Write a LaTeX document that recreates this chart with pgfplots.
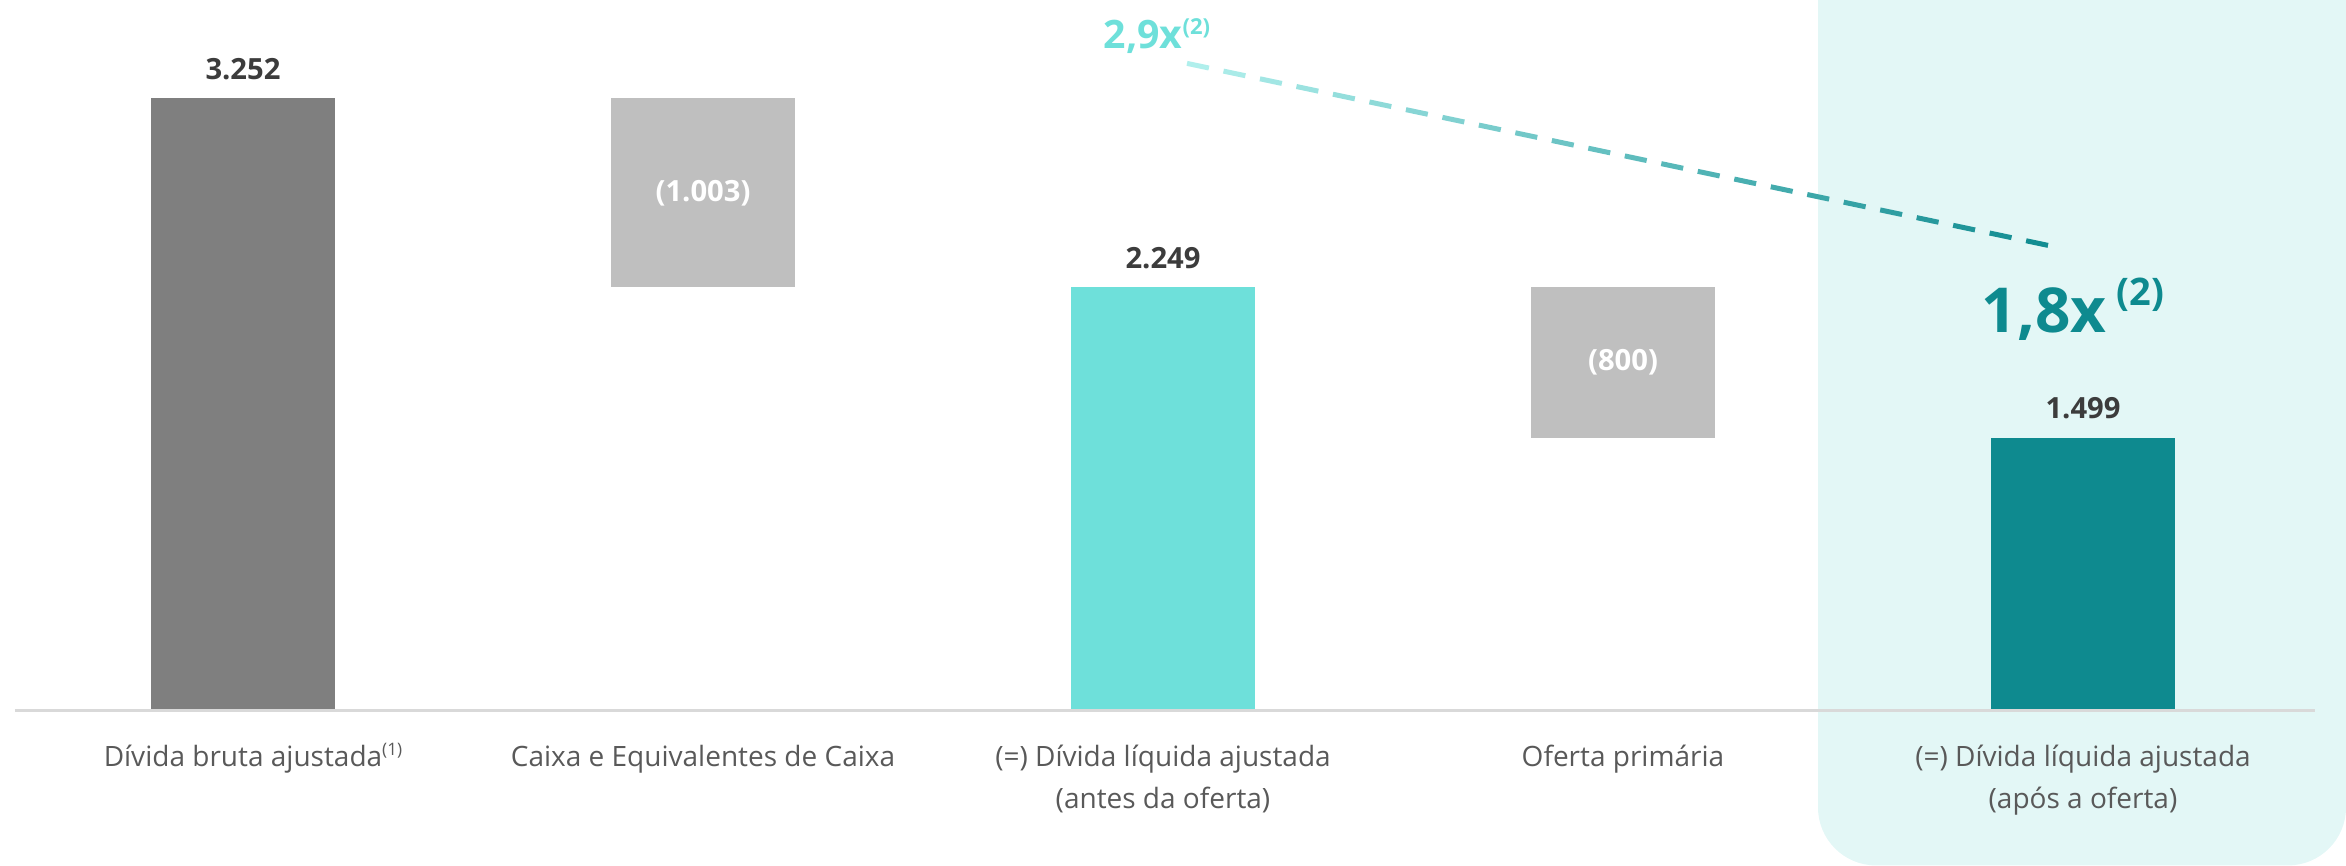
\documentclass[border=0pt]{standalone}
\usepackage{pgfplots}
\pgfplotsset{compat=1.18}
\usepackage{fontspec}
\setmainfont{Open Sans}
\definecolor{barA}{HTML}{7F7F7F}
\definecolor{barB}{HTML}{BFBFBF}
\definecolor{turq}{HTML}{6EE0DA}
\definecolor{teal}{HTML}{0E8A8F}
\definecolor{panel}{HTML}{E3F7F6}
\definecolor{valtxt}{HTML}{3C3C3C}
\definecolor{cattxt}{HTML}{595959}
\definecolor{axisln}{HTML}{D9D9D9}
\definecolor{dashA}{HTML}{B2F0ED}
\definecolor{dashB}{HTML}{0E8A8F}
\newcommand\dsh[5]{\draw[line width=1.25pt, dashB!#1!dashA] (axis cs:#2,#3) -- (axis cs:#4,#5);}
\newcommand\st{\rule{0pt}{8pt}}
\begin{document}
\begin{tikzpicture}
\begin{axis}[
  set layers,
  ybar stacked, bar width=0.4, reverse stacked plots=false,
  scale only axis, width=586.5pt, height=177.5pt,
  xmin=-0.52826, xmax=4.57174, ymin=0, ymax=3772.6,
  clip=false,
  axis line style={draw=none},
  major tick length=0pt,
  ytick=\empty,
  xtick={0,1,2,3,4},
  xticklabels={{\st Dívida bruta ajustada\rlap{\raisebox{2.6pt}{\fontsize{4.3}{5}\selectfont(1)}}},{\st Caixa e Equivalentes de Caixa},{\st(=) Dívida líquida ajustada\\(antes da oferta)},{\st Oferta primária},{\st(=) Dívida líquida ajustada\\(após a oferta)}},
  xticklabel style={font=\fontsize{7}{10.6}\selectfont, text=cattxt, align=center, anchor=north, inner sep=0pt, yshift=-5.75pt},
]
% background panel (top corners fall outside the page)
\begin{pgfonlayer}{axis background}
\fill[panel, rounded corners=14.5pt, overlay] (axis cs:3.42391,-823.6) rectangle (axis cs:4.57174,4600);
\path (axis cs:-0.52826,-823.6) rectangle (axis cs:4.57174,3772.6);
\end{pgfonlayer}
% invisible base
\addplot[draw=none, fill=none] coordinates {(0,0) (1,2249) (2,0) (3,1449) (4,0)};
\addplot[draw=none, fill=barA] coordinates {(0,3252) (1,0) (2,0) (3,0) (4,0)};
\addplot[draw=none, fill=barB] coordinates {(0,0) (1,1003) (2,0) (3,0) (4,0)};
\addplot[draw=none, fill=turq] coordinates {(0,0) (1,0) (2,2249) (3,0) (4,0)};
\addplot[draw=none, fill=barB] coordinates {(0,0) (1,0) (2,0) (3,800) (4,0)};
\addplot[draw=none, fill=teal] coordinates {(0,0) (1,0) (2,0) (3,0) (4,1449)};
% axis line
\draw[axisln, line width=0.8pt] (axis cs:-0.4957,0) -- (axis cs:4.5043,0);
% value labels
\node[anchor=base, yshift=4.75pt, font=\fontsize{7.3}{8}\selectfont\bfseries, text=valtxt] at (axis cs:0,3252) {3.252};
\node[anchor=base, yshift=4.75pt, font=\fontsize{7.3}{8}\selectfont\bfseries, text=valtxt] at (axis cs:2,2249) {2.249};
\node[anchor=base, yshift=4.75pt, font=\fontsize{7.3}{8}\selectfont\bfseries, text=valtxt] at (axis cs:4,1449) {1.499};
\node[anchor=center, font=\fontsize{7.3}{8}\selectfont\bfseries, text=white] at (axis cs:1,2750.5) {(1.003)};
\node[anchor=center, font=\fontsize{7.3}{8}\selectfont\bfseries, text=white] at (axis cs:3,1849) {(800)};
% dashed gradient line
\dsh{1}{2.0522}{3438.0}{2.0998}{3413.4}
\dsh{5}{2.1315}{3397.0}{2.1791}{3372.4}
\dsh{10}{2.2108}{3356.1}{2.2584}{3331.5}
\dsh{14}{2.2901}{3315.1}{2.3377}{3290.5}
\dsh{18}{2.3694}{3274.1}{2.4170}{3249.5}
\dsh{22}{2.4488}{3233.1}{2.4963}{3208.5}
\dsh{26}{2.5281}{3192.2}{2.5756}{3167.6}
\dsh{30}{2.6074}{3151.2}{2.6550}{3126.6}
\dsh{35}{2.6867}{3110.2}{2.7343}{3085.6}
\dsh{39}{2.7660}{3069.2}{2.8136}{3044.7}
\dsh{43}{2.8453}{3028.3}{2.8929}{3003.7}
\dsh{47}{2.9246}{2987.3}{2.9722}{2962.7}
\dsh{51}{3.0039}{2946.3}{3.0515}{2921.7}
\dsh{55}{3.0832}{2905.3}{3.1308}{2880.7}
\dsh{60}{3.1625}{2864.4}{3.2101}{2839.8}
\dsh{64}{3.2419}{2823.4}{3.2894}{2798.8}
\dsh{68}{3.3212}{2782.4}{3.3688}{2757.8}
\dsh{72}{3.4005}{2741.4}{3.4481}{2716.8}
\dsh{76}{3.4798}{2700.5}{3.5274}{2675.9}
\dsh{80}{3.5591}{2659.5}{3.6067}{2634.9}
\dsh{85}{3.6384}{2618.5}{3.6860}{2593.9}
\dsh{89}{3.7177}{2577.5}{3.7653}{2553.0}
\dsh{93}{3.7970}{2536.6}{3.8446}{2512.0}
\dsh{97}{3.8763}{2495.6}{3.9239}{2471.0}
% multiples
\node[anchor=base west, inner sep=0pt, text=turq, font=\fontsize{9.8}{10}\selectfont\bfseries] at (axis cs:1.8696,3517.7) {2,9x\raisebox{3.5pt}{\fontsize{5.5}{6}\selectfont(2)}};
\node[anchor=base west, inner sep=0pt, text=teal, font=\fontsize{15.5}{16}\selectfont\bfseries] at (axis cs:3.7783,2008.6) {1,8x\hspace{2.5pt}\raisebox{6.75pt}{\fontsize{9.5}{10}\selectfont(2)}};
\end{axis}
\end{tikzpicture}
\end{document}
